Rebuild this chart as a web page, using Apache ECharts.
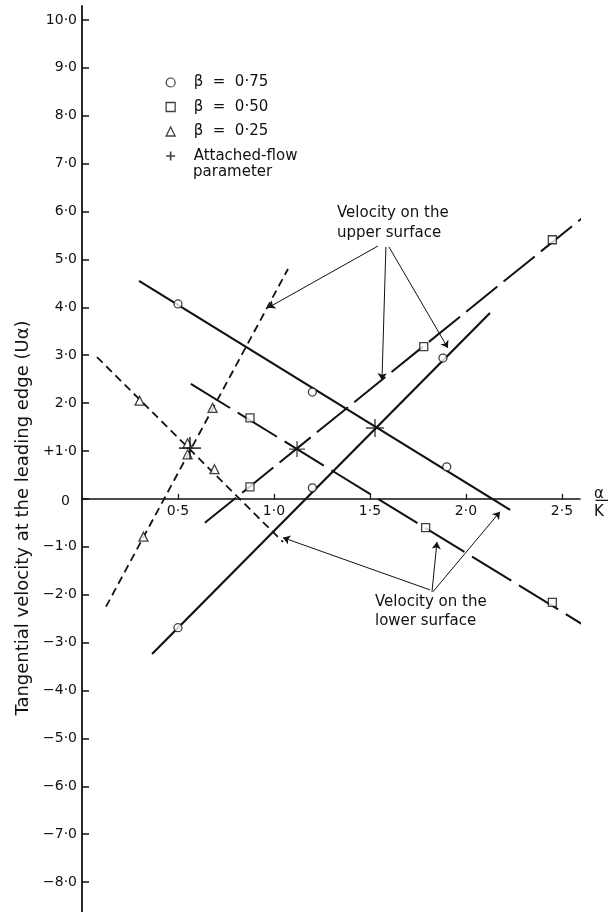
<!DOCTYPE html>
<html><head><meta charset="utf-8">
<script src="https://cdn.jsdelivr.net/npm/echarts@6/dist/echarts.min.js"></script>
<style>html,body{margin:0;padding:0;background:#fff}#c{width:609px;height:912px}</style>
</head><body><div id="c"></div>
<script>
// ---- tick values and labels ----
const yTickValues = [-8,-7,-6,-5,-4,-3,-2,-1,0,1,2,3,4,5,6,7,8,9,10];
const yTickLabels = ['−8·0','−7·0','−6·0','−5·0','−4·0','−3·0','−2·0','−1·0','0','+1·0','2·0','3·0','4·0','5·0','6·0','7·0','8·0','9·0','10·0'];
const xTickValues = [0.5,1.0,1.5,2.0,2.5];
const xTickLabels = ['0·5','1·0','1·5','2·0','2·5'];

// ---- β = 0.75 (circles, solid lines) ----
const b75Points = [[0.50,4.07],[1.20,2.23],[1.90,0.67],[0.50,-2.69],[1.20,0.23],[1.88,2.94]];
const b75Upper = [[0.365,-3.24],[2.125,3.88]];
const b75Lower = [[0.297,4.55],[2.23,-0.23]];

// ---- β = 0.50 (squares, long-dash lines) ----
const b50Points = [[0.875,1.69],[1.79,-0.60],[2.45,-2.16],[0.875,0.25],[1.78,3.18],[2.45,5.41]];
const b50Upper = [[0.64,-0.50],[2.62,5.91]];
const b50Lower = [[0.567,2.40],[2.68,-2.80]];

// ---- β = 0.25 (triangles, short-dash lines) ----
const b25Points = [[0.30,2.05],[0.55,1.16],[0.69,0.62],[0.32,-0.79],[0.55,0.93],[0.68,1.90]];
const b25Upper = [[0.125,-2.25],[1.073,4.80]];
const b25Lower = [[0.078,2.96],[1.047,-0.90]];

// ---- attached-flow parameter (crosses) ----
const attachedPoints = [[0.5625,1.06],[1.12,1.04],[1.526,1.48]];

// ---- annotation arrows (data coordinates: from label to line) ----
const upperArrows = [[[1.542,5.28],[0.969,3.99]],[[1.583,5.26],[1.5625,2.48]],[[1.599,5.26],[1.906,3.15]]];
const lowerArrows = [[[1.8125,-1.90],[1.047,-0.81]],[[1.823,-1.94],[1.849,-0.90]],[[1.828,-1.94],[2.177,-0.27]]];

const FONT = 'DejaVu Sans';
const INK = '#111';
const CROSS = 'path://M0,4.6H10V5.4H0ZM4.6,0H5.4V10H4.6Z';
const CROSS_ICON = 'path://M0,4.1H10V5.9H0ZM4.1,0H5.9V10H4.1Z';
const crossSizes = [22,16,18];

const Y_MIN = -8.625, Y_MAX = 10.29, X_MIN = 0, X_MAX = 2.594;
const GRID_TOP = 6, GRID_BOTTOM = 0, CHART_H = 912;
const xAxisOffset = -(CHART_H - GRID_TOP - GRID_BOTTOM) * (0 - Y_MIN) / (Y_MAX - Y_MIN);
const zeroPixelY = CHART_H - GRID_BOTTOM + xAxisOffset;

const chart = echarts.init(document.getElementById('c'), null, {renderer:'canvas'});

function lineSeries(name, data, width, type){
  return {name, type:'line', data, symbol:'none', clip:false, silent:true, z:2,
    lineStyle:{color:INK, width, type}};
}
const hollow = {color:'#fff', borderColor:INK, borderWidth:1.3};

const option = {
  backgroundColor:'#fff',
  animation:false,
  textStyle:{fontFamily:FONT, color:INK},
  grid:{left:82, right:29, top:GRID_TOP, bottom:GRID_BOTTOM, containLabel:false, outerBoundsMode:'none'},
  legend:{
    orient:'vertical', left:165.5, top:75, padding:0, itemGap:9.5,
    itemWidth:9, itemHeight:9,
    data:[
      {name:'β  =  0·75', icon:'circle', itemStyle:{color:'#fff', borderColor:INK, borderWidth:1.2}},
      {name:'β  =  0·50', icon:'rect', itemStyle:{color:'#fff', borderColor:INK, borderWidth:1.3}},
      {name:'β  =  0·25', icon:'triangle', itemStyle:{color:'#fff', borderColor:INK, borderWidth:1.3}},
      {name:'Attached-flow parameter', icon:CROSS_ICON}
    ],
    formatter:n => n === 'Attached-flow parameter' ? 'Attached-flow' : n,
    textStyle:{fontFamily:FONT, fontSize:15, color:INK, padding:[0,0,0,13.5]}
  },
  xAxis:{
    type:'value', min:X_MIN, max:X_MAX, position:'bottom', offset:xAxisOffset,
    name:'{a|α}\n{k|K}', nameLocation:'end', nameGap:14,
    nameTextStyle:{padding:[8,0,0,0], rich:{
      a:{fontFamily:FONT, fontSize:15, lineHeight:18, color:INK, align:'center'},
      k:{fontFamily:FONT, fontSize:15, lineHeight:18, color:INK, align:'center'}
    }},
    axisLine:{onZero:false, lineStyle:{color:INK, width:1.5}},
    axisTick:{show:true, inside:true, length:5, customValues:xTickValues, lineStyle:{color:INK, width:1.2}},
    axisLabel:{customValues:xTickValues, margin:5, fontSize:14, fontFamily:FONT, color:INK,
      formatter:v => { const i = xTickValues.findIndex(t => Math.abs(t-v) < 1e-6); return i >= 0 ? xTickLabels[i] : ''; }},
    splitLine:{show:false}
  },
  yAxis:{
    type:'value', min:Y_MIN, max:Y_MAX,
    name:'Tangential velocity at the leading edge (Uα)', nameLocation:'middle', nameGap:50, nameRotate:90,
    nameTextStyle:{fontFamily:FONT, fontSize:18, color:INK, padding:[0,118,0,0]},
    axisLine:{show:true, onZero:false, lineStyle:{color:INK, width:1.8}},
    axisTick:{show:true, inside:true, length:7, customValues:yTickValues, lineStyle:{color:INK, width:1.5}},
    axisLabel:{customValues:yTickValues, margin:5, fontSize:14, fontFamily:FONT, color:INK,
      formatter:v => { const i = yTickValues.findIndex(t => Math.abs(t-v) < 1e-6); if (i < 0) return ''; return v === 0 ? '{z|0}' : yTickLabels[i]; },
      rich:{z:{fontFamily:FONT, fontSize:14, color:INK, padding:[4,7,0,0]}}},
    splitLine:{show:false}
  },
  graphic:[
    {type:'text', left:337, top:203, style:{text:'Velocity on the\nupper surface', fontFamily:FONT, fontSize:15, lineHeight:20, fill:INK, align:'center'}},
    {type:'text', left:375, top:593, style:{text:'Velocity on the\nlower surface', fontFamily:FONT, fontSize:15, lineHeight:19, fill:INK, align:'center'}},
    {type:'text', left:193, top:165, style:{text:'parameter', fontFamily:FONT, fontSize:15, fill:INK}},
    {type:'line', shape:{x1:595.5, y1:zeroPixelY + 1.5, x2:608, y2:zeroPixelY + 1.5}, style:{stroke:INK, lineWidth:1.3}}
  ],
  series:[
    lineSeries('b75 upper', b75Upper, 2.2, 'solid'),
    lineSeries('b75 lower', b75Lower, 2.2, 'solid'),
    lineSeries('b50 upper', b50Upper, 2, [40,8]),
    lineSeries('b50 lower', b50Lower, 2, [46,9]),
    lineSeries('b25 upper', b25Upper, 1.8, [8,5]),
    lineSeries('b25 lower', b25Lower, 1.8, [8,5]),
    {name:'upper arrows', type:'lines', coordinateSystem:'cartesian2d', silent:true, z:3,
      symbol:['none','arrow'], symbolSize:[0,7],
      lineStyle:{color:INK, width:1, opacity:1},
      data:upperArrows.map(c => ({coords:c}))},
    {name:'lower arrows', type:'lines', coordinateSystem:'cartesian2d', silent:true, z:3,
      symbol:['none','arrow'], symbolSize:[0,7],
      lineStyle:{color:INK, width:1, opacity:1},
      data:lowerArrows.map(c => ({coords:c}))},
    {name:'β  =  0·75', type:'scatter', data:b75Points, symbol:'circle', symbolSize:8, z:5, itemStyle:hollow},
    {name:'β  =  0·50', type:'scatter', data:b50Points, symbol:'rect', symbolSize:8, z:5, itemStyle:hollow},
    {name:'β  =  0·25', type:'scatter', data:b25Points, symbol:'triangle', symbolSize:9, z:5, itemStyle:hollow},
    {name:'Attached-flow parameter', type:'scatter', symbol:CROSS, z:6,
      data:attachedPoints.map((p,i) => ({value:p, symbolSize:crossSizes[i]})),
      symbolSize:11, itemStyle:{color:INK}}
  ]
};
chart.setOption(option);
</script>
</body></html>
